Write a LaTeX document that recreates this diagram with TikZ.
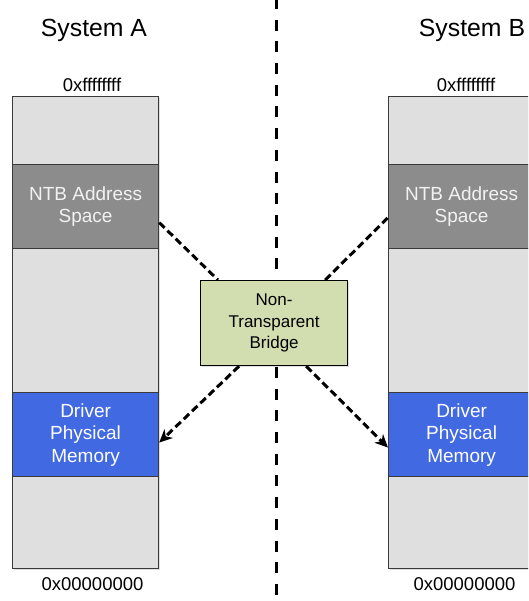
\documentclass[tikz,border=0pt]{standalone}
\usepackage{fontspec}
\setmainfont{Liberation Sans}
\usetikzlibrary{arrows.meta,shadows}
\definecolor{memgray}{HTML}{DFDFDF}
\definecolor{ntbgray}{HTML}{8C8C8C}
\definecolor{ntbtext}{HTML}{F2F2F2}
\definecolor{drvblue}{HTML}{4169E1}
\definecolor{bridgegreen}{HTML}{D3DEB0}
\definecolor{edgegray}{HTML}{3A3A3A}
\tikzset{
  memcol/.style={draw=edgegray, line width=1.2pt, fill=memgray, anchor=north west,
    minimum width=146pt, minimum height=472pt, inner sep=0pt,
    drop shadow={opacity=0.25, shadow xshift=1pt, shadow yshift=-1.5pt}},
  region/.style={draw=edgegray, line width=1.2pt, anchor=north west, inner sep=0pt,
    minimum width=146pt, align=center, font=\fontsize{19}{22.5}\selectfont},
  ntbregion/.style={region, fill=ntbgray, text=ntbtext, minimum height=84pt},
  drvregion/.style={region, fill=drvblue, text=white, minimum height=84pt},
  bridgebox/.style={draw=black, line width=1.2pt, fill=bridgegreen, anchor=north west,
    minimum width=147pt, minimum height=85pt, inner sep=0pt, align=center,
    font=\fontsize{17}{21.7}\selectfont,
    drop shadow={opacity=0.25, shadow xshift=1pt, shadow yshift=-1.5pt}},
  systitle/.style={anchor=base, font=\fontsize{24.8}{30}\selectfont},
  addr/.style={anchor=base, font=\fontsize{18.5}{22}\selectfont},
  divider/.style={line width=3pt, dash pattern=on 11pt off 10.7pt},
  link/.style={line width=3pt, dash pattern=on 7.5pt off 4pt},
  linktip/.style={link, -{Stealth[length=13pt, width=12pt, inset=4pt]}}
}
\begin{document}
\begin{tikzpicture}[x=1pt, y=-1pt]
  \path[use as bounding box] (0,0) rectangle (528,601);
  \clip (0,0) rectangle (528,601);

  % titles and address labels
  \node[systitle] (titleA) at (94,37) {System A};
  \node[systitle] (titleB) at (472,37) {System B};
  \node[addr] (topA) at (92,92) {0xffffffff};
  \node[addr] (topB) at (466,92) {0xffffffff};
  \node[addr] (botA) at (92.5,590) {0x00000000};
  \node[addr] (botB) at (464.5,590) {0x00000000};

  % memory maps
  \node[memcol] (colA) at (12,96) {};
  \node[memcol] (colB) at (388,96) {};
  \node[ntbregion] (ntbA) at (12,164) {NTB Address\\Space};
  \node[ntbregion] (ntbB) at (388,164) {NTB Address\\Space};
  \node[drvregion] (drvA) at (12,392) {Driver\\Physical\\Memory};
  \node[drvregion] (drvB) at (388,392) {Driver\\Physical\\Memory};

  % boundary between the two systems
  \coordinate (divtop) at (276,-2);
  \coordinate (divbot) at (276,603);
  \draw[divider] (divtop) -- (divbot);

  % the bridge
  \node[bridgebox] (bridge) at (200,280) {Non-\\Transparent\\Bridge};

  % address translation paths
  \draw[link] ([yshift=-16pt]ntbA.east) -- ([xshift=18pt]bridge.north west);
  \draw[linktip] ([xshift=39pt]bridge.south west) -- ([yshift=-8pt]drvA.east);
  \draw[link] ([xshift=-23pt]bridge.north east) -- ([yshift=-11pt]ntbB.west);
  \draw[linktip] ([xshift=-42pt]bridge.south east) -- ([yshift=-13pt]drvB.west);
\end{tikzpicture}
\end{document}
